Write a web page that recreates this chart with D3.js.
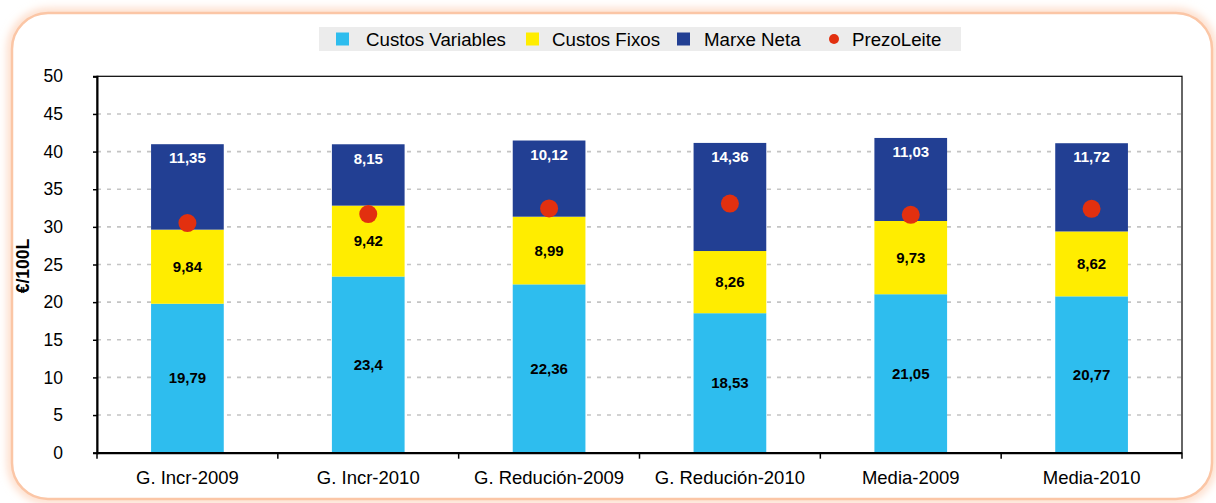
<!DOCTYPE html>
<html>
<head>
<meta charset="utf-8">
<script src="https://cdn.jsdelivr.net/npm/d3@7"></script>
<style>
  body { margin: 0; background: #fff; }
  svg { display: block; font-family: "Liberation Sans", Arial, sans-serif; }
</style>
</head>
<body>
<svg id="chart"></svg>
<script>
// values
const categories = ["G. Incr-2009", "G. Incr-2010", "G. Redución-2009", "G. Redución-2010", "Media-2009", "Media-2010"];
const custosVariables = [19.79, 23.4, 22.36, 18.53, 21.05, 20.77];
const custosFixos = [9.84, 9.42, 8.99, 8.26, 9.73, 8.62];
const marxeNeta = [11.35, 8.15, 10.12, 14.36, 11.03, 11.72];
const prezoLeite = [30.5, 31.7, 32.45, 33.1, 31.6, 32.4];
const seriesNames = ["Custos Variables", "Custos Fixos", "Marxe Neta", "PrezoLeite"];
const yTicks = [0, 5, 10, 15, 20, 25, 30, 35, 40, 45, 50];

const colors = ["#2ebdee", "#ffed00", "#223f93", "#e2300f"];

const W = 1216, H = 503;
const x0 = 97, x1 = 1182, yTop = 76.3, yBot = 452.7;

const svg = d3.select("#chart").attr("width", W).attr("height", H);

// outer rounded frame with a soft glow
const defs = svg.append("defs");
const glow = defs.append("filter").attr("id", "glow")
  .attr("x", "-5%").attr("y", "-5%").attr("width", "110%").attr("height", "110%");
glow.append("feGaussianBlur").attr("stdDeviation", 4);

svg.append("rect")
  .attr("x", 12).attr("y", 13).attr("width", 1200).attr("height", 486).attr("rx", 36)
  .attr("fill", "none").attr("stroke", "#fdd9c4").attr("stroke-width", 9)
  .attr("filter", "url(#glow)");
svg.append("rect")
  .attr("x", 12).attr("y", 13).attr("width", 1200).attr("height", 486).attr("rx", 36)
  .attr("fill", "#fff").attr("stroke", "#fbc6a6").attr("stroke-width", 2.5);

// scales
const x = d3.scaleBand().domain(categories).range([x0, x1]).paddingInner(0.598).paddingOuter(0.299);
const xb = d3.scaleBand().domain(categories).range([x0, x1]);
const y = d3.scaleLinear().domain([0, 50]).range([yBot, yTop]);

// grid
svg.append("g")
  .selectAll("line")
  .data(yTicks.filter(d => d > 0 && d < 50))
  .join("line")
  .attr("x1", x0).attr("x2", x1)
  .attr("y1", d => y(d)).attr("y2", d => y(d))
  .attr("stroke", "#c4c4c4").attr("stroke-width", 1.6)
  .attr("stroke-dasharray", "4,6");

// stacked bars
const rows = categories.map((c, i) => ({cat: c, v: custosVariables[i], f: custosFixos[i], m: marxeNeta[i]}));
const stack = d3.stack().keys(["v", "f", "m"])(rows);

const layers = svg.append("g").selectAll("g")
  .data(stack)
  .join("g")
  .attr("fill", (d, i) => colors[i]);

layers.selectAll("rect")
  .data(d => d)
  .join("rect")
  .attr("x", d => x(d.data.cat))
  .attr("width", x.bandwidth())
  .attr("y", d => y(d[1]))
  .attr("height", d => y(d[0]) - y(d[1]));

const fmt = v => String(v).replace(".", ",");

// value labels
layers.selectAll("text")
  .data((d, i) => d.map(p => ({p, key: d.key, i})))
  .join("text")
  .attr("x", d => x(d.p.data.cat) + x.bandwidth() / 2)
  .attr("y", d => d.i === 2 ? y(d.p[1]) + 14 : y((d.p[0] + d.p[1]) / 2))
  .attr("dy", "0.35em")
  .attr("text-anchor", "middle")
  .attr("font-weight", "bold")
  .attr("font-size", "15px")
  .attr("fill", d => d.i === 2 ? "#fff" : "#000")
  .text(d => fmt(d.p.data[d.key]));

// price dots
svg.append("g").selectAll("circle")
  .data(prezoLeite)
  .join("circle")
  .attr("cx", (d, i) => x(categories[i]) + x.bandwidth() / 2)
  .attr("cy", d => y(d))
  .attr("r", 9)
  .attr("fill", colors[3]);

// frame
svg.append("rect")
  .attr("x", x0).attr("y", yTop).attr("width", x1 - x0).attr("height", yBot - yTop)
  .attr("fill", "none").attr("stroke", "#000").attr("stroke-width", 1.2);

// y axis
const yAxis = svg.append("g")
  .attr("transform", `translate(${x0},0)`)
  .call(d3.axisLeft(y).tickValues(yTicks).tickSize(4).tickPadding(30));
yAxis.select(".domain").attr("stroke-width", 2);
yAxis.selectAll(".tick line").attr("stroke-width", 1.5);
yAxis.selectAll("text").attr("font-size", "17.5px").attr("fill", "#000")
  .style("font-family", "'Liberation Sans', Arial, sans-serif");

// x axis
const xAxis = svg.append("g")
  .attr("transform", `translate(0,${yBot})`)
  .call(d3.axisBottom(xb).tickSize(0).tickPadding(18));
xAxis.select(".domain").attr("stroke-width", 2.2).attr("d", `M${x0},0.5H${x1}`);
xAxis.selectAll("text").attr("font-size", "18.5px").attr("fill", "#000")
  .style("font-family", "'Liberation Sans', Arial, sans-serif");

// boundary ticks between categories
svg.append("g").selectAll("line")
  .data(categories.concat(["end"]))
  .join("line")
  .attr("x1", (d, i) => x0 + i * xb.step())
  .attr("x2", (d, i) => x0 + i * xb.step())
  .attr("y1", yBot).attr("y2", yBot + 6)
  .attr("stroke", "#000").attr("stroke-width", 1.5);

// y title
svg.append("text")
  .attr("transform", "translate(29,266) rotate(-90)")
  .attr("text-anchor", "middle")
  .attr("font-weight", "bold")
  .attr("font-size", "17.5px")
  .text("€/100L");

// legend
const lg = svg.append("g");
lg.append("rect").attr("x", 319).attr("y", 27).attr("width", 642).attr("height", 24).attr("fill", "#ececec");
const legendX = [336, 526, 677, 834];
const textX = [366, 552, 704, 852];
seriesNames.forEach((name, i) => {
  if (i < 3) {
    lg.append("rect").attr("x", legendX[i]).attr("y", 32.5).attr("width", 13).attr("height", 13).attr("fill", colors[i]);
  } else {
    lg.append("circle").attr("cx", legendX[i]).attr("cy", 39).attr("r", 5).attr("fill", colors[i]);
  }
  lg.append("text").attr("x", textX[i]).attr("y", 39).attr("dy", "0.35em")
    .attr("font-size", "18.7px").text(name);
});
</script>
</body>
</html>
